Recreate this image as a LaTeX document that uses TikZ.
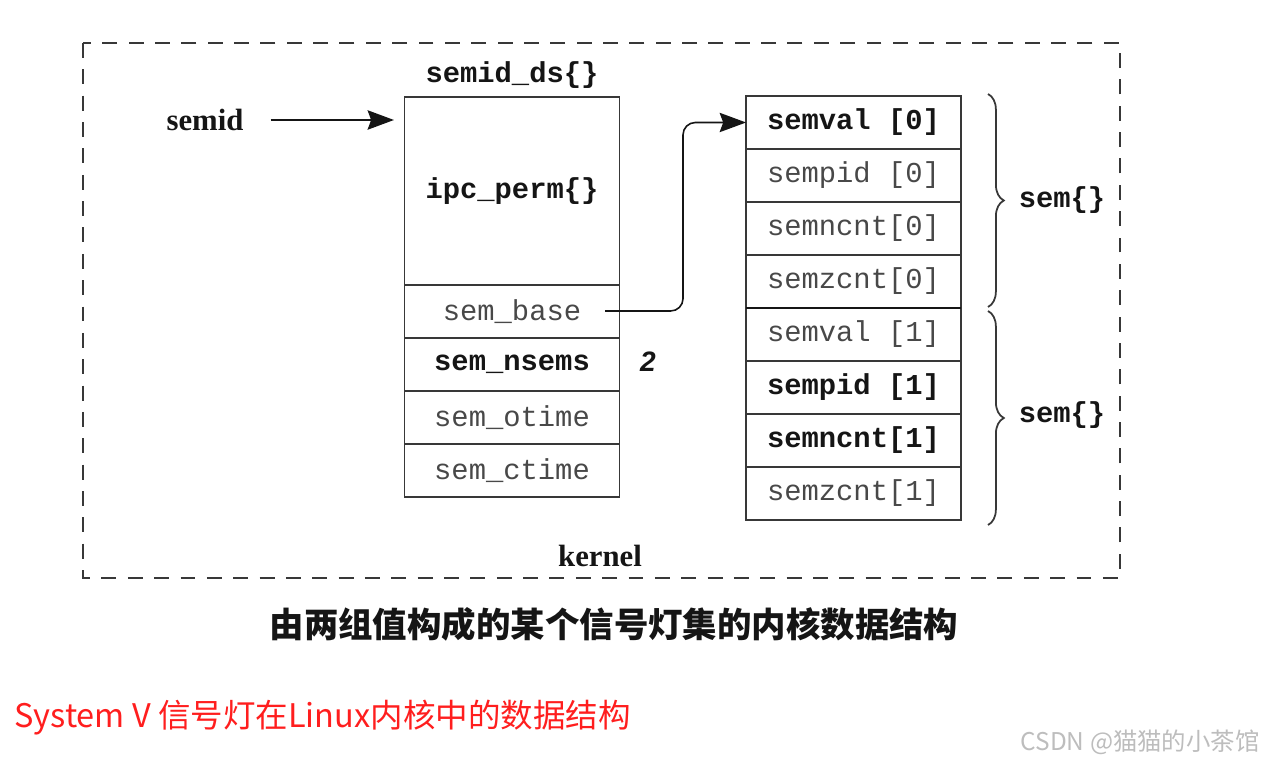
\documentclass[tikz,border=0pt]{standalone}
\usepackage{fontspec}
\setmainfont{Liberation Serif}
\setsansfont{Liberation Sans}
\setmonofont{Liberation Mono}
\newfontfamily\cjkfont{Noto Sans CJK SC}
\usetikzlibrary{arrows.meta,positioning,decorations.pathreplacing}
\definecolor{ink}{HTML}{151515}
\definecolor{soft}{HTML}{484848}
\definecolor{rule}{HTML}{383838}
\definecolor{alert}{HTML}{FF1E1E}
\definecolor{wmark}{HTML}{BDBDBD}
\tikzset{cell/.style={draw=rule,line width=0.7pt,minimum width=4.3cm,minimum height=1.06cm,
 inner sep=0pt,outer sep=0pt,font=\fontsize{16.4}{18}\selectfont\ttfamily,text=soft},
 boldcell/.style={cell,font=\fontsize{16.4}{18}\selectfont\ttfamily\bfseries,text=ink},
 structlabel/.style={font=\fontsize{16.4}{18}\selectfont\ttfamily\bfseries,text=ink},
 plainlabel/.style={font=\fontsize{17.5}{20}\selectfont\bfseries,text=ink},
 ptr/.style={-{Stealth[length=15pt,width=11pt,inset=2pt]},draw=ink,line width=1.2pt},
 group/.style={decorate,decoration={brace,amplitude=9pt},draw=rule,line width=1pt}}

\begin{document}
\begin{tikzpicture}[x=0.02cm,y=-0.02cm,node distance=0pt]
\useasboundingbox (0,0) rectangle (1264,763);
\draw[rule,line width=1.1pt,dash pattern=on 8.5pt off 6.5pt] (83,43) rectangle (1120,578);
\node[structlabel] (dstitle) at (512,75) {semid\_ds\{\}};
\node[boldcell,minimum height=3.76cm,anchor=north] (perm) at (512,97) {ipc\_perm\{\}};
\node[cell,below=of perm] (base) {sem\_base};
\node[boldcell,below=of base] (nsems) {sem\_nsems};
\node[cell,below=of nsems] (otime) {sem\_otime};
\node[cell,below=of otime] (ctime) {sem\_ctime};
\node[font=\sffamily\bfseries\itshape\fontsize{16}{18}\selectfont,text=ink] (count) at (648,362) {2};
\node[plainlabel] (semid) at (205,120) {semid};
\draw[ptr,shorten <=12pt,shorten >=6pt] (semid) -- (semid -| perm.west);
\node[boldcell,anchor=north] (sv0) at (853.5,96) {semval [0]};
\node[cell,below=of sv0] (sp0) {sempid [0]};
\node[cell,below=of sp0] (sn0) {semncnt[0]};
\node[cell,below=of sn0] (sz0) {semzcnt[0]};
\node[cell,below=of sz0] (sv1) {semval [1]};
\node[boldcell,below=of sv1] (sp1) {sempid [1]};
\node[boldcell,below=of sp1] (sn1) {semncnt[1]};
\node[cell,below=of sn1] (sz1) {semzcnt[1]};
\draw[ink,line width=1.6pt] (sz0.south west) -- (sz0.south east);
\coordinate (basept) at (605,311);
\draw[ptr,line width=0.9pt,rounded corners=7pt] (basept) -- (683,311) |- (sv0.west);
\draw[group] (988,94) -- (988,307);
\draw[group] (988,311) -- (988,525);
\node[structlabel] (sem0) at (1062,200) {sem\{\}};
\node[structlabel] (sem1) at (1062,415) {sem\{\}};
\node[plainlabel] (kernel) at (600,556) {kernel};
\node[font=\cjkfont\bfseries\fontsize{19.6}{22}\selectfont,text=ink] (caption) at (614,624) {由两组值构成的某个信号灯集的内核数据结构};
\node[anchor=west,inner sep=0pt,text=alert,font=\cjkfont\fontsize{18.5}{22}\selectfont] (note) at (14,718) {System V 信号灯在Linux内核中的数据结构};
\node[anchor=east,inner sep=0pt,text=wmark,font=\cjkfont\fontsize{13.9}{16}\selectfont] (credit) at (1260,742) {CSDN @猫猫的小茶馆};
\end{tikzpicture}
\end{document}
